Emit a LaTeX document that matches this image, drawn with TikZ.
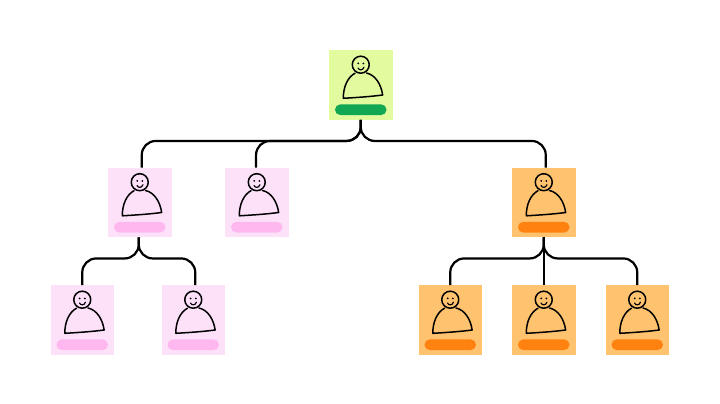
\documentclass[tikz,border=0pt]{standalone}
\usepackage{xcolor}
\usetikzlibrary{positioning}
\definecolor{limecol}{RGB}{227,251,159}
\definecolor{greencol}{RGB}{18,168,83}
\definecolor{pinkcol}{RGB}{253,225,249}
\definecolor{rosecol}{RGB}{255,184,239}
\definecolor{sandcol}{RGB}{255,195,111}
\definecolor{orangecol}{RGB}{255,130,16}

\begin{document}
\begin{tikzpicture}[
			x=1pt,
			y=1pt,
			on grid,
			card/.style={
				minimum width=63.5pt,
				minimum height=69.5pt,
				inner sep=0pt
			},
			limecard/.style={card, fill=limecol},
			pinkcard/.style={card, fill=pinkcol},
			sandcard/.style={card, fill=sandcol},
			link/.style={
				draw=black,
				line width=2.2pt,
				rounded corners=14pt
			},
			sketch/.style={
				draw=black,
				line width=1.5pt,
				line cap=round,
				line join=round
			},
			pill/.style={
				rounded corners=5.3pt,
				minimum width=51.5pt,
				minimum height=10.7pt,
				inner sep=0pt,
				fill=#1
			},
			person/.pic={
				\path[sketch] (0,20.3) circle (8.5);
				\path[sketch] (-5.7,11.8) .. controls (-13,8) and (-17.6,-2) .. (-17.4,-13.3)
				.. controls (-5,-12.6) and (10,-11.6) .. (21.9,-10)
				.. controls (20.5,0) and (15,10) .. (5.7,12);
				\fill (-2.6,21.6) circle (1);
				\fill (2.6,21.6) circle (1);
				\path[sketch, line width=1.2pt] (-2.8,17) .. controls (-1.5,14.4) and (2,14.4) .. (3.2,17.8);
				\node[pill=#1] (-pill) at (0,-24.7) {};
			}
			]
			\useasboundingbox (0,0) rectangle (720,-404);
			% Cards
			\node[limecard] (root) at (360.75,-85) {};
			\node[pinkcard] (lead1) [below left=117.5pt and 221pt of root] {};
			\node[pinkcard] (lead2) [right=117pt of lead1] {};
			\node[sandcard] (lead3) [right=404pt of lead1] {};
			\node[pinkcard] (member1) [below left=117.5pt and 57.5pt of lead1] {};
			\node[pinkcard] (member2) [right=111pt of member1] {};
			\node[sandcard] (member3) [below left=117.5pt and 93.5pt of lead3] {};
			\node[sandcard] (member4) [below=117.5pt of lead3] {};
			\node[sandcard] (member5) [below right=117.5pt and 93.5pt of lead3] {};
			% People
			\pic (proot) at (root) {person=greencol};
			\foreach \who in {lead1, lead2, member1, member2}
				\pic (p\who) at (\who) {person=rosecol};
			\foreach \who in {lead3, member3, member4, member5}
				\pic (p\who) at (\who) {person=orangecol};
			% Junctions
			\coordinate[below=21pt of root.south] (rootbus);
			\coordinate[below=21pt of lead1.south] (leftbus);
			\coordinate[below=21pt of lead3.south] (rightbus);
			% Links
			\draw[link] (root.south) -- (rootbus) -| ([xshift=2pt]lead1.north);
			\draw[link] (root.south) -- (rootbus) -| ([xshift=-0.7pt]lead2.north);
			\draw[link] (root.south) -- (rootbus) -| ([xshift=2pt]lead3.north);
			\draw[link] ([xshift=-1pt]lead1.south) -- ([xshift=-1pt]leftbus) -| (member1.north);
			\draw[link] ([xshift=-1pt]lead1.south) -- ([xshift=-1pt]leftbus) -| ([xshift=2pt]member2.north);
			\draw[link] (lead3.south) -- (rightbus) -| (member3.north);
			\draw[link] (lead3.south) -- (member4.north);
			\draw[link] (lead3.south) -- (rightbus) -| (member5.north);
		\end{tikzpicture}
\end{document}
